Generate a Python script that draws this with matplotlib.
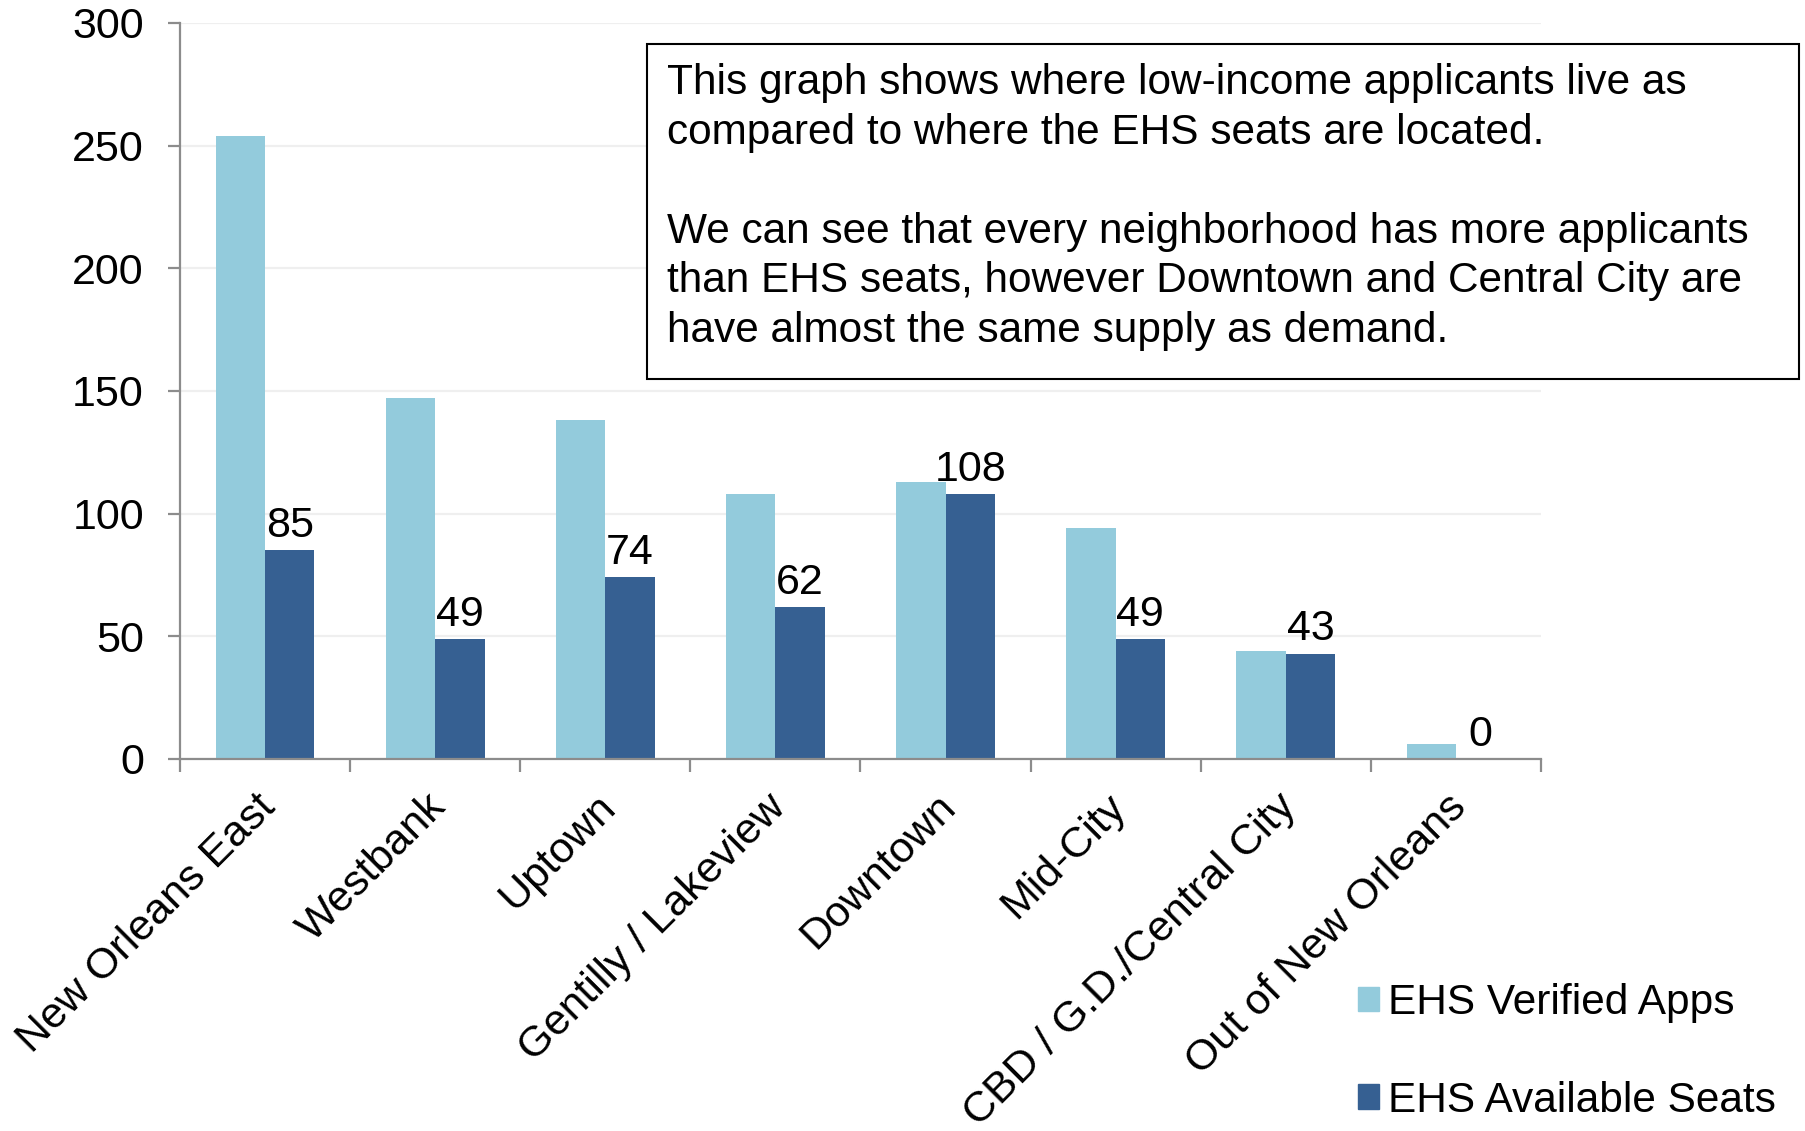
import matplotlib
matplotlib.use("Agg")
import matplotlib.pyplot as plt
from matplotlib.patches import Patch, Rectangle
from matplotlib.transforms import ScaledTranslation
import numpy as np

plt.rcParams["font.family"] = ["Liberation Sans", "DejaVu Sans"]

categories = ["New Orleans East", "Westbank", "Uptown", "Gentilly / Lakeview",
              "Downtown", "Mid-City", "CBD / G.D./Central City", "Out of New Orleans"]
verified_apps = [254, 147, 138, 108, 113, 94, 44, 6]
available_seats = [85, 49, 74, 62, 108, 49, 43, 0]
series_names = ["EHS Verified Apps", "EHS Available Seats"]
note = ("This graph shows where low-income applicants live as\n"
        "compared to where the EHS seats are located.\n"
        "\n"
        "We can see that every neighborhood has more applicants\n"
        "than EHS seats, however Downtown and Central City are\n"
        "have almost the same supply as demand.")

LIGHT = "#93CBDC"
DARK = "#366092"
AXIS = "#8C8C8C"
FS = 31

W, H = 1806, 1131
fig = plt.figure(figsize=(W / 100, H / 100), dpi=100)
ax = fig.add_axes([180 / W, 1 - 759 / H, (1541 - 180) / W, (759 - 23) / H])

x = np.arange(len(categories))
bw = 0.29
ax.bar(x - bw / 2, verified_apps, bw, color=LIGHT, zorder=2)
bars = ax.bar(x + bw / 2, available_seats, bw, color=DARK, zorder=2)
for b, v in zip(bars, available_seats):
    ax.annotate(str(v), (b.get_x() + b.get_width() / 2, v), xytext=(0, 3),
                textcoords="offset points", ha="center", va="bottom", fontsize=FS)

ax.set_xlim(-0.5, len(categories) - 0.5)
ax.set_ylim(0, 300)
ax.set_yticks(range(0, 301, 50))
ax.yaxis.grid(True, color="#EFEFEF", lw=1.6, zorder=0)
ax.set_axisbelow(True)
for s in ("top", "right"):
    ax.spines[s].set_visible(False)
for s in ("left", "bottom"):
    ax.spines[s].set_color(AXIS)
    ax.spines[s].set_linewidth(1.6)
ax.tick_params(axis="y", length=9, width=1.6, color=AXIS, labelsize=FS, pad=17)

ax.set_xticks(x)
ax.set_xticklabels(categories, rotation=45, ha="right", rotation_mode="anchor",
                   fontsize=FS)
ax.set_xticks(np.arange(-0.5, len(categories)), minor=True)
ax.tick_params(axis="x", which="major", length=0, pad=20)
ax.tick_params(axis="x", which="minor", length=9, width=1.6, color=AXIS)
shift = ScaledTranslation(-0.10, 0, fig.dpi_scale_trans)
for lab in ax.get_xticklabels():
    lab.set_transform(lab.get_transform() + shift)

# note box
fig.patches.append(Rectangle((647 / W, 1 - 379 / H), (1799 - 647) / W, (379 - 44) / H,
                             transform=fig.transFigure, facecolor="white",
                             edgecolor="black", lw=1.5, zorder=5))
fig.text(667 / W, 1 - 63 / H, note, ha="left", va="top", fontsize=30.5,
         linespacing=1.31, zorder=6)

handles = [Patch(color=LIGHT), Patch(color=DARK)]
fig.legend(handles, series_names, loc="upper left", bbox_to_anchor=(1341 / W, 1 - 966 / H),
           frameon=False, fontsize=30.5, handlelength=0.5, handleheight=0.5,
           handletextpad=0.22, labelspacing=1.36, borderaxespad=0)

fig.savefig("out.png", dpi=100)
